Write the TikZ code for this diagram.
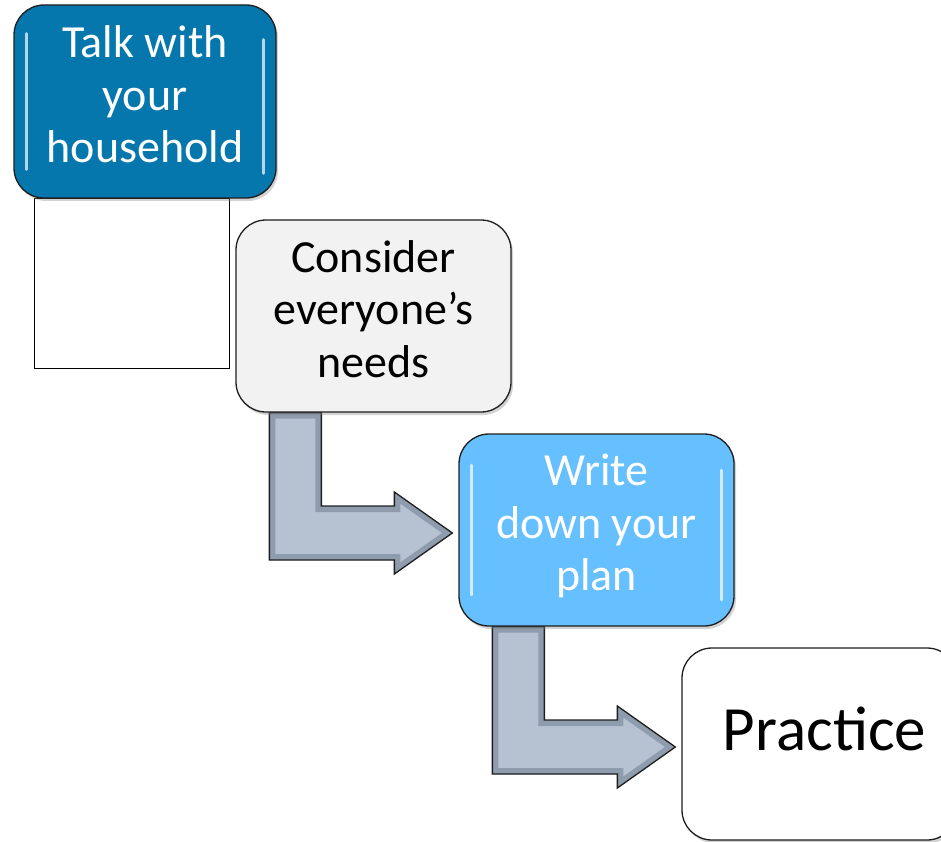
\documentclass[tikz,border=0pt]{standalone}
\usepackage{fontspec}
\setmainfont{Carlito}
\usetikzlibrary{calc,shadows}
\pgfdeclarelayer{background}
\pgfsetlayers{background,main}

\definecolor{stepdark}{HTML}{0677AD}
\definecolor{steplight}{HTML}{66BFFF}
\definecolor{stepgray}{HTML}{F2F2F2}
\definecolor{arrowbody}{HTML}{B6C2D1}
\definecolor{arrowedge}{HTML}{8E9CAE}
\definecolor{outline}{HTML}{1E1E1E}

\tikzset{
  stepbox/.style={rounded corners=30pt, draw=outline, line width=1.3pt,
    minimum width=275pt, minimum height=192pt, align=center, inner sep=0pt,
    font=\fontsize{46}{52.5}\selectfont, text height=128pt, text depth=5pt,
    drop shadow={shadow xshift=2pt, shadow yshift=-3pt, opacity=0.35}},
  gloss/.style={line width=2.6pt, line cap=round, white, opacity=0.7},
}

% corner points of a bent arrow running from the bottom of #1 to the left side of #2
\newcommand\bentarrow[3]{%
  \path let \p1=(#1.south west), \p2=(#2.west) in
    coordinate (#3a) at ({\x1+34pt},{\y1})
    coordinate (#3b) at ({\x1+86pt},{\y1})
    coordinate (#3c) at ({\x1+86pt},{\y2-3pt+27pt})
    coordinate (#3d) at ({\x2-64pt},{\y2-3pt+27pt})
    coordinate (#3e) at ({\x2-64pt},{\y2-3pt+41pt})
    coordinate (#3f) at ({\x2-6pt},{\y2-3pt})
    coordinate (#3g) at ({\x2-64pt},{\y2-3pt-41pt})
    coordinate (#3h) at ({\x2-64pt},{\y2-3pt-27pt})
    coordinate (#3i) at ({\x1+34pt},{\y2-3pt-27pt});
  \fill[black, opacity=0.3, shift={(2pt,-3pt)}]
    (#3a) -- (#3b) -- (#3c) -- (#3d) -- (#3e) -- (#3f) -- (#3g) -- (#3h) -- (#3i) -- cycle;
  \fill[arrowbody]
    (#3a) -- (#3b) -- (#3c) -- (#3d) -- (#3e) -- (#3f) -- (#3g) -- (#3h) -- (#3i) -- cycle;
  \begin{scope}
    \clip (#3a) -- (#3b) -- (#3c) -- (#3d) -- (#3e) -- (#3f) -- (#3g) -- (#3h) -- (#3i) -- cycle;
    \draw[arrowedge, line width=12pt, line join=miter]
      (#3a) -- (#3b) -- (#3c) -- (#3d) -- (#3e) -- (#3f) -- (#3g) -- (#3h) -- (#3i) -- cycle;
  \end{scope}
  \draw[outline, line width=1.3pt, line join=miter]
    (#3a) -- (#3b) -- (#3c) -- (#3d) -- (#3e) -- (#3f) -- (#3g) -- (#3h) -- (#3i) -- cycle;
}

\begin{document}
\begin{tikzpicture}[x=1pt, y=-1pt]
  \useasboundingbox (0,0) rectangle (941,842);

  % empty frame hanging below the first step
  \node[draw=black, line width=0.6pt, fill=white, minimum width=195pt,
        minimum height=170pt, inner sep=0pt] (frame) at (131.5,283) {};

  % the four steps
  \node[stepbox, fill=stepdark, text=white, minimum width=262pt, minimum height=193pt]
    (b1) at (145,101.5) {Talk with\\your\\household};
  \node[stepbox, fill=stepgray, text=black, text height=126pt, text depth=4pt]
    (b2) at (373.5,316) {Consider\\everyone’s\\needs};
  \node[stepbox, fill=steplight, text=white, text depth=7pt] (b3) at (596.5,530)
    {Write\\down your\\plan};
  \node[stepbox, fill=white, text=black,
        font=\fontsize{63}{70}\selectfont, text height=40pt, text depth=28pt]
    (b4) at (819.5,744) {\hspace*{10pt}Practice};

  % glossy streaks on the coloured steps
  \draw[gloss] ($(b1.west)+(13,-68)$) -- ($(b1.west)+(13,68)$);
  \draw[gloss] ($(b1.east)+(-13,-62)$) -- ($(b1.east)+(-13,72)$);
  \draw[gloss] ($(b3.west)+(13,-65)$) -- ($(b3.west)+(13,65)$);
  \draw[gloss] ($(b3.east)+(-13,-60)$) -- ($(b3.east)+(-13,70)$);

  % bent arrows between the steps
  \begin{pgfonlayer}{background}
    \bentarrow{b2}{b3}{p}
    \bentarrow{b3}{b4}{q}
  \end{pgfonlayer}
\end{tikzpicture}
\end{document}
